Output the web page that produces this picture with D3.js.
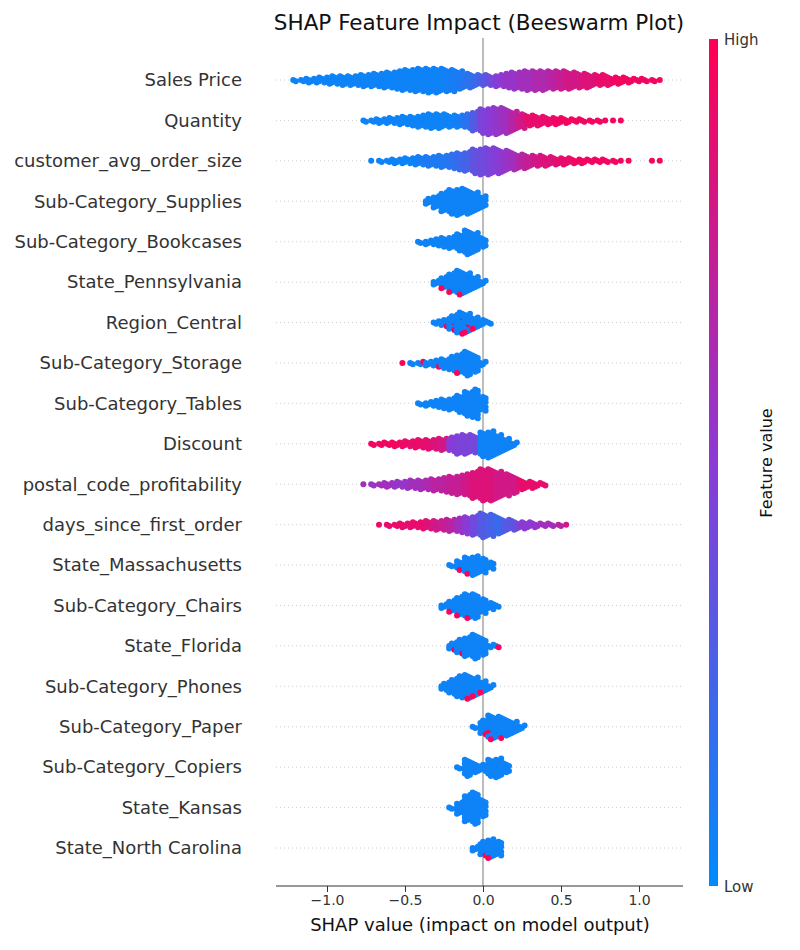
<!DOCTYPE html>
<html><head><meta charset="utf-8">
<script src="https://cdn.jsdelivr.net/npm/d3@7"></script>
<style>body{margin:0;background:#fff}text{font-family:"DejaVu Sans",sans-serif}</style>
</head><body><div id="chart"></div>
<script>
// features, top to bottom
var features = ["Sales Price","Quantity","customer_avg_order_size","Sub-Category_Supplies",
  "Sub-Category_Bookcases","State_Pennsylvania","Region_Central","Sub-Category_Storage",
  "Sub-Category_Tables","Discount","postal_code_profitability","days_since_first_order",
  "State_Massachusetts","Sub-Category_Chairs","State_Florida","Sub-Category_Phones",
  "Sub-Category_Paper","Sub-Category_Copiers","State_Kansas","State_North Carolina"];

// SHAP value of the first 0.05-wide bin for each feature
var binStart = [-1.2,-0.75,-0.7,-0.35,-0.4,-0.3,-0.3,-0.5,-0.4,-0.7,-0.75,-0.65,-0.2,-0.25,-0.2,-0.25,-0.05,-0.15,-0.2,-0.05];

// point counts per bin
var binCounts = [
  [2,3,4,5,6,7,8, 8,9,10,11,12,13, 15,17,18,19,20,20,19,18, 15,12,10,9,8, 10,12,14,15,16,16,16,15, 15,14,13,12,10,9,8, 6,5,4,3,2,2,1],
  [2,3,4,5,6,7,8, 10,12,12,11,10,10, 12,16,20,22,22,20,16,12, 9,8,7,6,5,4,3, 2,2,2,1,1,1],
  [1,2,3,4,5,6,7, 8,9,10,12,14,16, 20,22,22,20,17,14, 12,10,9,8,7,6,5, 4,4,3,3,2,2,1, 1,0,0,1,1],
  [5,10,16,20,22,20,16,10],
  [2,4,6,8,10,14,20,16,8],
  [4,10,16,20,16,10,4],
  [3,6,12,18,16,10,5,2],
  [1,2,3,4,6,8,12,16,20,14,4],
  [2,4,6,8,10,14,20,24,12],
  [2,3,3,4,5,6,7,8,9,10, 12,16,16,14, 20,22,16,10,4],
  [1,2,3,4,5,6,7,8, 9,10,12,14,16,18, 22,26,26,22,18,14, 8,6,4,2],
  [1,2,3,4,5,6,7, 8,9,10,12,14,16, 20,18,14,10,8, 6,5,4,3,2,2,1],
  [2,8,14,16,12,6],
  [4,10,16,20,20,12,6,2],
  [6,12,16,20,14,3,2],
  [6,12,18,20,16,10,4],
  [2,12,20,18,14,10,4],
  [2,14,8,6,14,16,8],
  [2,10,22,26,14],
  [4,12,16,12]
];

// typical feature value (0 = low, 1 = high) per bin
var binTone = [
  [.05,.05,.05,.05,.05,.05,.05, .05,.05,.05,.05,.05,.05, .05,.05,.05,.05,.05,.05,.06,.08, .1,.15,.2,.3,.4, .5,.55,.55,.6,.6,.65,.65,.7, .75,.8,.8,.85,.85,.9,.9, .95,.95,.95,.95,.95,.95,.95],
  [.05,.05,.05,.05,.05,.05,.05, .05,.05,.05,.05,.05,.08, .15,.3,.45,.5,.55,.6,.7,.8, .9,.9,.9,.92,.95,.95,.95, .95,.95,.95,.95,.95,.95],
  [.05,.05,.05,.05,.05,.05,.08, .1,.1,.12,.15,.2,.25, .35,.4,.45,.5,.55,.6, .7,.75,.8,.85,.85,.9,.9, .95,.95,.95,.95,.95,.95,.95, .95,.95,.95,.95,.95],
  [.05,.05,.05,.05,.05,.05,.05,.05],
  [.05,.05,.05,.05,.05,.05,.05,.05,.05],
  [.05,.05,.05,.05,.05,.05,.05],
  [.05,.05,.05,.05,.05,.05,.05,.05],
  [.05,.05,.05,.05,.05,.05,.05,.05,.05,.05,.05],
  [.05,.05,.05,.05,.05,.05,.05,.05,.05],
  [.95,.95,.95,.95,.92,.9,.9,.88,.85,.8, .5,.45,.45,.42, .05,.05,.05,.05,.05],
  [.6,.55,.6,.6,.55,.55,.6,.6, .65,.7,.7,.75,.75,.8, .85,.85,.85,.8,.8,.8, .9,.9,.9,.9],
  [.9,.9,.9,.9,.9,.9,.85, .8,.75,.7,.6,.5,.4, .3,.25,.2,.3,.35, .5,.5,.55,.6,.6,.7,.8],
  [.05,.05,.05,.05,.05,.05],
  [.05,.05,.05,.05,.05,.05,.05,.05],
  [.05,.05,.05,.05,.05,.05,.05],
  [.05,.05,.05,.05,.05,.05,.05],
  [.05,.05,.05,.05,.05,.05,.05],
  [.05,.05,.05,.05,.05,.05,.05],
  [.05,.05,.05,.05,.05],
  [.05,.05,.05,.05]
];

// number of high-value (red) points mixed into each bin
var binHot = [
  [],[],[],[],[],
  [0,1,1,1,0,0,0],
  [0,1,2,2,2,1,0,0],
  [1,0,1,0,1,0,0,1,0,0,0],
  [],[],[],[],
  [0,1,1,0,0,0],
  [0,1,1,1,0,0,0,0],
  [1,1,0,0,0,0,1],
  [0,0,0,1,1,1,0],
  [0,1,2,1,0,0,0],
  [],[],
  [0,1,1,0]
];

var xTicks = [-1.0,-0.5,0.0,0.5,1.0];
var binWidth = 0.05;

var width = 800, height = 950;
var left = 276, right = 683, bottom = 886;

var svg = d3.select("#chart").append("svg").attr("width", width).attr("height", height);

var x = d3.scaleLinear().domain([-1.0, 1.0]).range([327, 639]);
var y = d3.scalePoint().domain(features).range([80, 848]);
var color = d3.scaleLinear().domain([0, 0.5, 1]).range(["#008bfb", "#8b3bd5", "#ff0052"]).interpolate(d3.interpolateRgb);

// dotted row guides
svg.append("g").selectAll("line").data(features).enter().append("line")
  .attr("x1", left).attr("x2", right)
  .attr("y1", function(d) { return y(d); }).attr("y2", function(d) { return y(d); })
  .attr("stroke", "#ccc").attr("stroke-width", 1).attr("stroke-dasharray", "1,3");

// zero line
svg.append("line").attr("x1", x(0)).attr("x2", x(0)).attr("y1", 38).attr("y2", bottom)
  .attr("stroke", "#999").attr("stroke-width", 1.3);

// build points
var points = [];
features.forEach(function(f, fi) {
  binCounts[fi].forEach(function(n, bi) {
    var v = binStart[fi] + bi * binWidth;
    var hot = binHot[fi][bi] || 0;
    for (var i = 0; i < n; i++) {
      var isHot = Math.floor((i + 1) * hot / n) > Math.floor(i * hot / n);
      var row = Math.ceil(i / 2) * (i % 2 ? 1 : -1);
      points.push({
        f: f, v: v, off: ((i % 3) - 1) * 2.6, row: row,
        c: isHot ? 0.97 : binTone[fi][bi]
      });
    }
  });
});

svg.append("g").selectAll("circle").data(points).enter().append("circle")
  .attr("cx", function(d) { return x(d.v) + d.off; })
  .attr("cy", function(d) { return y(d.f) + d.row * 1.25; })
  .attr("r", 3)
  .attr("fill", function(d) { return color(d.c); });

// feature labels
svg.append("g").selectAll("text").data(features).enter().append("text")
  .attr("x", 242).attr("y", function(d) { return y(d); }).attr("dy", "0.35em")
  .attr("text-anchor", "end").attr("font-size", 18).attr("fill", "#333")
  .text(function(d) { return d; });

// x axis
var axis = svg.append("g").attr("transform", "translate(0," + bottom + ")")
  .call(d3.axisBottom(x).tickValues(xTicks).tickFormat(function(d) { return d3.format(".1f")(d).replace("-", "\u2212"); }).tickSizeOuter(0));
axis.select(".domain").attr("d", "M" + left + ",0H" + right).attr("stroke", "#333");
axis.selectAll(".tick line").attr("stroke", "#333");
axis.selectAll("text").attr("font-size", 14).attr("fill", "#333").attr("font-family", "DejaVu Sans");

svg.append("text").attr("x", x(0) - 3).attr("y", 931).attr("text-anchor", "middle")
  .attr("font-size", 18).attr("fill", "#111").text("SHAP value (impact on model output)");

svg.append("text").attr("x", 479).attr("y", 30).attr("text-anchor", "middle")
  .attr("font-size", 21.5).attr("fill", "#111").text("SHAP Feature Impact (Beeswarm Plot)");

// colour bar
var defs = svg.append("defs");
var grad = defs.append("linearGradient").attr("id", "cb").attr("x1", 0).attr("y1", 1).attr("x2", 0).attr("y2", 0);
[0, 0.25, 0.5, 0.75, 1].forEach(function(t) {
  grad.append("stop").attr("offset", t).attr("stop-color", color(t));
});
svg.append("rect").attr("x", 709).attr("y", 39).attr("width", 9).attr("height", bottom - 39).attr("fill", "url(#cb)");
svg.append("text").attr("x", 724).attr("y", 45).attr("font-size", 15).attr("fill", "#333").text("High");
svg.append("text").attr("x", 724).attr("y", 892).attr("font-size", 15).attr("fill", "#333").text("Low");
svg.append("text").attr("transform", "translate(772,463) rotate(-90)").attr("text-anchor", "middle")
  .attr("font-size", 16).attr("fill", "#111").text("Feature value");
</script></body></html>
